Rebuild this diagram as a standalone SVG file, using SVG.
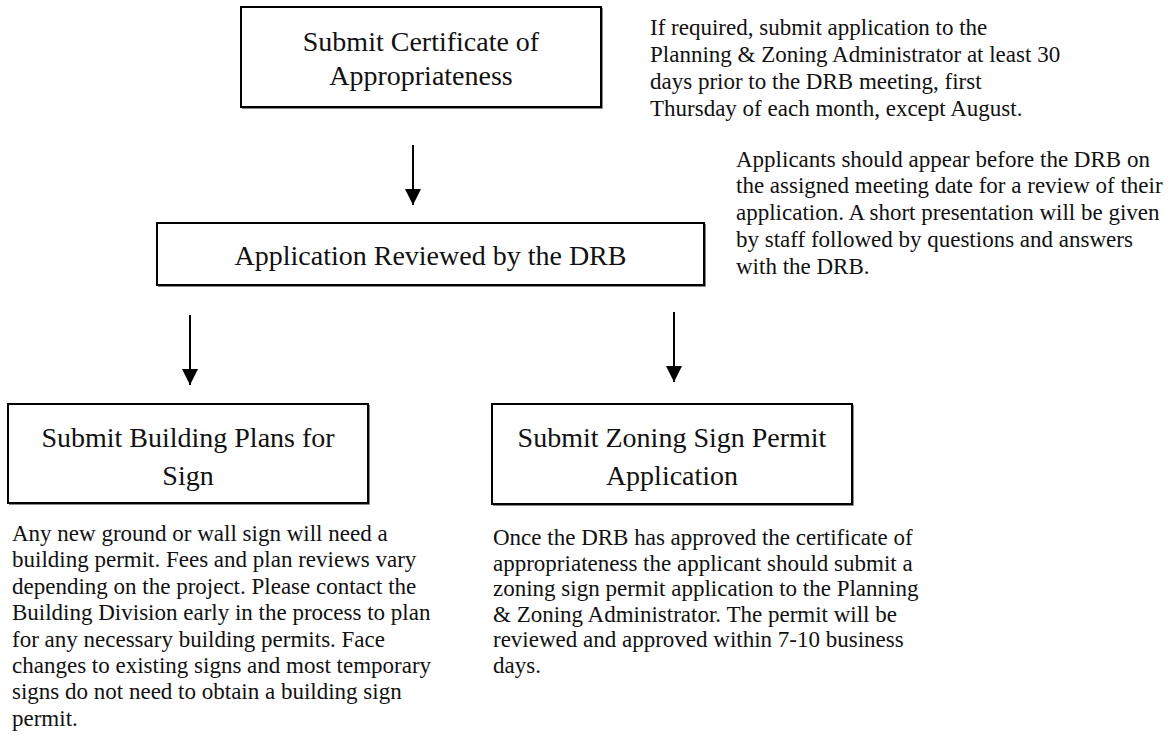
<svg xmlns="http://www.w3.org/2000/svg" width="1172" height="739" viewBox="0 0 1172 739">
  <style>
    .box { fill: #ffffff; stroke: #000000; stroke-width: 2; }
    .shade { fill: none; stroke: #8a8a8a; stroke-width: 1; }
    .title { font-family: "Liberation Serif", "Times New Roman", serif; font-size: 28px; fill: #111111; text-anchor: middle; }
    .note { font-family: "Liberation Serif", "Times New Roman", serif; font-size: 23px; fill: #111111; }
    .link { stroke: #000000; stroke-width: 2; fill: none; }
  </style>
  <defs>
    <marker id="arrowhead" viewBox="0 0 16 16" refX="16" refY="8" markerWidth="16" markerHeight="16" markerUnits="userSpaceOnUse" orient="auto">
      <path d="M0,0 L16,8 L0,16 Z" fill="#000000"/>
    </marker>
  </defs>
  <rect width="1172" height="739" fill="#ffffff"/>

  <!-- step 1 -->
  <g id="submit-coa">
    <rect class="box" x="241" y="7" width="360" height="100"/>
    <polyline class="shade" points="602.5,8 602.5,108.5 242,108.5"/>
    <text class="title" x="421" y="51">Submit Certificate of</text>
    <text class="title" x="421" y="85">Appropriateness</text>
  </g>

  <!-- step 2 -->
  <g id="drb-review">
    <rect class="box" x="157" y="223" width="547" height="62"/>
    <polyline class="shade" points="705.5,224 705.5,286.5 158,286.5"/>
    <text class="title" x="430.5" y="265">Application Reviewed by the DRB</text>
  </g>

  <!-- step 3a -->
  <g id="building-plans">
    <rect class="box" x="8" y="404" width="360" height="99"/>
    <polyline class="shade" points="369.5,405 369.5,504.5 9,504.5"/>
    <text class="title" x="188" y="447">Submit Building Plans for</text>
    <text class="title" x="188" y="485">Sign</text>
  </g>

  <!-- step 3b -->
  <g id="zoning-permit">
    <rect class="box" x="492" y="404" width="360" height="100"/>
    <polyline class="shade" points="853.5,405 853.5,505.5 493,505.5"/>
    <text class="title" x="672" y="447">Submit Zoning Sign Permit</text>
    <text class="title" x="672" y="485">Application</text>
  </g>

  <!-- side notes -->
  <g id="note-submission">
    <text class="note" x="650" y="35">If required, submit application to the</text>
    <text class="note" x="650" y="62">Planning &amp; Zoning Administrator at least 30</text>
    <text class="note" x="650" y="89">days prior to the DRB meeting, first</text>
    <text class="note" x="650" y="116">Thursday of each month, except August.</text>
  </g>

  <g id="note-meeting">
    <text class="note" x="736" y="167">Applicants should appear before the DRB on</text>
    <text class="note" x="736" y="193">the assigned meeting date for a review of their</text>
    <text class="note" x="736" y="220">application. A short presentation will be given</text>
    <text class="note" x="736" y="247">by staff followed by questions and answers</text>
    <text class="note" x="736" y="274">with the DRB.</text>
  </g>

  <g id="note-building">
    <text class="note" x="12" y="541">Any new ground or wall sign will need a</text>
    <text class="note" x="12" y="567">building permit. Fees and plan reviews vary</text>
    <text class="note" x="12" y="594">depending on the project. Please contact the</text>
    <text class="note" x="12" y="620">Building Division early in the process to plan</text>
    <text class="note" x="12" y="647">for any necessary building permits. Face</text>
    <text class="note" x="12" y="673">changes to existing signs and most temporary</text>
    <text class="note" x="12" y="699">signs do not need to obtain a building sign</text>
    <text class="note" x="12" y="726">permit.</text>
  </g>

  <g id="note-zoning">
    <text class="note" x="493" y="545">Once the DRB has approved the certificate of</text>
    <text class="note" x="493" y="571">appropriateness the applicant should submit a</text>
    <text class="note" x="493" y="596">zoning sign permit application to the Planning</text>
    <text class="note" x="493" y="622">&amp; Zoning Administrator. The permit will be</text>
    <text class="note" x="493" y="647">reviewed and approved within 7-10 business</text>
    <text class="note" x="493" y="673">days.</text>
  </g>

  <!-- connectors -->
  <g id="connectors">
    <line class="link" x1="413" y1="145" x2="413" y2="205" marker-end="url(#arrowhead)"/>
    <line class="link" x1="190" y1="315" x2="190" y2="385" marker-end="url(#arrowhead)"/>
    <line class="link" x1="674" y1="312" x2="674" y2="382" marker-end="url(#arrowhead)"/>
  </g>
</svg>
